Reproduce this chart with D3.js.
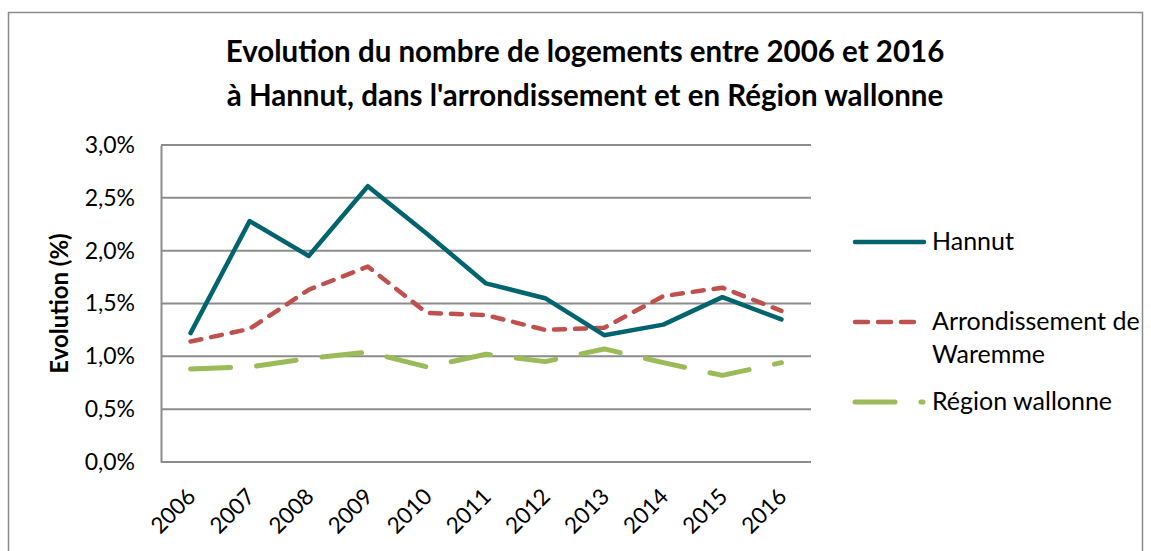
<!DOCTYPE html>
<html>
<head>
<meta charset="utf-8">
<script src="https://cdn.jsdelivr.net/npm/d3@7"></script>
<style>
	body { margin: 0; background: #fff; }
	text { font-family: Lato, "Open Sans", sans-serif; fill: #000; }
</style>
</head>
<body>
<div id="c-svg"></div>
<script>
// data (evolution en %)
const years = ["2006","2007","2008","2009","2010","2011","2012","2013","2014","2015","2016"];
const hannut = [1.22, 2.28, 1.95, 2.61, 2.16, 1.69, 1.55, 1.20, 1.30, 1.56, 1.35];
const arrondissement = [1.14, 1.26, 1.63, 1.85, 1.41, 1.39, 1.25, 1.27, 1.57, 1.65, 1.43];
const region = [0.88, 0.90, 0.98, 1.04, 0.90, 1.02, 0.95, 1.07, 0.94, 0.82, 0.94];
const yTicks = [0, 0.5, 1, 1.5, 2, 2.5, 3];
const seriesNames = ["Hannut", "Arrondissement de Waremme", "Région wallonne"];

function graph(){

	//sizing
	let width = 1151;
	let height = 551;
	let margin = {top:145, right:340, bottom:89, left: 161};

	let svg = d3.select("#c-svg")
		.append("svg")
		.attr("width", width)
		.attr("height", height);

	//chart frame
	svg.append("rect")
		.attr("x", 8.5)
		.attr("y", 12.5)
		.attr("width", 1134)
		.attr("height", 560)
		.attr("fill", "none")
		.attr("stroke", "#8a8a8a")
		.attr("stroke-width", 1.5);

	//french number format
	const locale = d3.formatLocale({
		"decimal": ",",
		"thousands": "\u2009",
		"grouping": [3],
		"currency": ["", "€"]
	});
	const fmt = locale.format(".1f");

	//scales
	let x = d3.scalePoint()
		.domain(years)
		.range([margin.left, width - margin.right])
		.padding(0.5);

	let y = d3.scaleLinear()
		.domain([0, 3])
		.range([height - margin.bottom, margin.top]);

	//title
	let title = svg.append("text")
		.attr("text-anchor", "middle")
		.attr("font-weight", "bold")
		.attr("font-size", 29.5);
	title.append("tspan").attr("x", 585).attr("y", 62)
		.text("Evolution du nombre de logements entre 2006 et 2016");
	title.append("tspan").attr("x", 585).attr("y", 106)
		.text("à Hannut, dans l'arrondissement et en Région wallonne");

	//gridlines
	svg.append("g")
		.selectAll("line")
		.data(yTicks)
		.join("line")
		.attr("x1", margin.left)
		.attr("x2", width - margin.right)
		.attr("y1", d => y(d))
		.attr("y2", d => y(d))
		.attr("stroke", "#8c8c8c")
		.attr("stroke-width", 2);

	//y axis
	let yAxis = svg.append("g")
		.attr("transform", `translate(${margin.left},0)`)
		.call(d3.axisLeft(y)
			.tickValues(yTicks)
			.tickSize(0)
			.tickPadding(26)
			.tickFormat(d => fmt(d) + "%"));
	yAxis.select(".domain")
		.attr("stroke", "#8c8c8c")
		.attr("stroke-width", 2);
	yAxis.selectAll("text")
		.attr("font-size", 23)
		.attr("font-family", "Lato, sans-serif");

	svg.append("text")
		.attr("transform", `translate(68,${(y(0) + y(3)) / 2}) rotate(-90)`)
		.attr("text-anchor", "middle")
		.attr("font-weight", "bold")
		.attr("font-size", 24)
		.text("Evolution (%)");

	//x axis
	let xAxis = svg.append("g")
		.attr("transform", `translate(0,${y(0)})`)
		.call(d3.axisBottom(x).tickSize(0).tickPadding(0));
	xAxis.select(".domain").remove();
	xAxis.selectAll("text")
		.attr("font-size", 22.5)
		.attr("font-family", "Lato, sans-serif")
		.attr("text-anchor", "end")
		.attr("dy", 0)
		.attr("transform", "translate(6,36) rotate(-45)");

	//series
	const series = [
		{name: seriesNames[0], values: hannut, color: "#00646f", dash: null, w: 4.5},
		{name: seriesNames[1], values: arrondissement, color: "#c0504d", dash: "11,10", w: 4.5},
		{name: seriesNames[2], values: region, color: "#9bbb59", dash: "40,26", w: 5}
	];

	const line = d3.line()
		.x((d, i) => x(years[i]))
		.y(d => y(d));

	svg.append("g")
		.selectAll("path")
		.data(series.slice().reverse())
		.join("path")
		.attr("d", d => line(d.values))
		.attr("fill", "none")
		.attr("stroke", d => d.color)
		.attr("stroke-width", d => d.w)
		.attr("stroke-linejoin", "round")
		.attr("stroke-linecap", "round")
		.attr("stroke-dasharray", d => d.dash);

	//legend
	const legendY = [242, 322, 402];
	let legend = svg.append("g")
		.selectAll("g")
		.data(series)
		.join("g")
		.attr("transform", (d, i) => `translate(855,${legendY[i]})`);

	legend.append("line")
		.attr("x1", 0)
		.attr("x2", d => d.dash ? 68 : 69)
		.attr("stroke", d => d.color)
		.attr("stroke-width", d => d.w)
		.attr("stroke-linecap", "round")
		.attr("stroke-dasharray", d => d.dash === "11,10" ? "13,10" : d.dash);

	legend.append("text")
		.attr("x", 77)
		.attr("y", 8)
		.attr("font-size", 25)
		.each(function(d){
			let t = d3.select(this);
			if (d.name === "Arrondissement de Waremme"){
				t.append("tspan").attr("x", 77).text("Arrondissement de");
				t.append("tspan").attr("x", 77).attr("dy", 33).text("Waremme");
			} else {
				t.text(d.name);
			}
		});

} //fonction graph

graph();
</script>
</body>
</html>
